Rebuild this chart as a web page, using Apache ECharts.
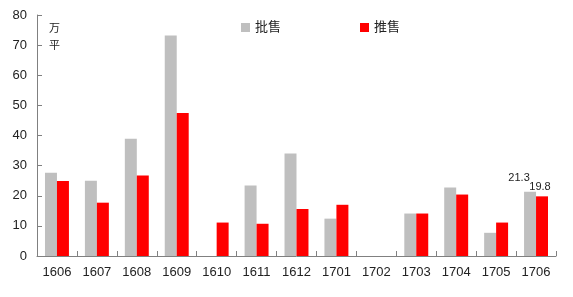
<!DOCTYPE html>
<html><head><meta charset="utf-8">
<script src="https://cdn.jsdelivr.net/npm/echarts@6/dist/echarts.min.js"></script>
<style>html,body{margin:0;padding:0;background:#fff}#c{width:573px;height:297px}</style>
</head><body><div id="c"></div>
<script>
const categories = ['1606','1607','1608','1609','1610','1611','1612','1701','1702','1703','1704','1705','1706'];
const wholesale = [27.6, 25.0, 38.9, 73.2, null, 23.4, 34.0, 12.4, null, 14.1, 22.7, 7.7, 21.3];
const launch = [24.9, 17.7, 26.7, 47.5, 11.1, 10.7, 15.6, 17.0, null, 14.1, 20.4, 11.1, 19.8];
const yTicks = [0, 10, 20, 30, 40, 50, 60, 70, 80];
const seriesNames = ['批售', '推售'];
const unitText = '万\n平';

const font = '"Liberation Sans", "Noto Sans CJK SC", sans-serif';
const lastLabel = (offset) => ({
  show: true, position: 'top', color: '#222', fontSize: 11, fontFamily: font, offset: offset,
  formatter: p => p.dataIndex === categories.length - 1 ? p.value : ''
});
const chart = echarts.init(document.getElementById('c'));
chart.setOption({
  animation: false,
  grid: {left: 37, right: 17, top: 15, bottom: 41},
  legend: {
    left: 241, top: 21, padding: 0, itemWidth: 9, itemHeight: 9, itemGap: 79, icon: 'rect',
    textStyle: {fontSize: 13, color: '#222', fontFamily: font},
    data: seriesNames
  },
  graphic: [{type: 'text', left: 49, top: 20, style: {text: unitText, fontSize: 11, lineHeight: 17, fill: '#222', fontFamily: font}}],
  xAxis: {
    type: 'category', data: categories,
    axisLine: {lineStyle: {color: '#808080'}},
    axisTick: {show: true, inside: true, length: 5, lineStyle: {color: '#808080'}},
    axisLabel: {color: '#222', fontSize: 13, margin: 10, fontFamily: font}
  },
  yAxis: {
    type: 'value', min: yTicks[0], max: yTicks[yTicks.length - 1], interval: 10,
    splitLine: {show: false},
    axisLine: {show: true, lineStyle: {color: '#808080'}},
    axisTick: {show: true, inside: true, length: 5, lineStyle: {color: '#808080'}},
    axisLabel: {color: '#222', fontSize: 13, margin: 10, fontFamily: font}
  },
  series: [
    {name: seriesNames[0], type: 'bar', data: wholesale, barWidth: '30%', barGap: '0%',
     itemStyle: {color: '#BFBFBF'}, label: lastLabel([-11, -3])},
    {name: seriesNames[1], type: 'bar', data: launch, barWidth: '30%',
     itemStyle: {color: '#FF0000'}, label: lastLabel([-2, 1])}
  ]
});
</script></body></html>
